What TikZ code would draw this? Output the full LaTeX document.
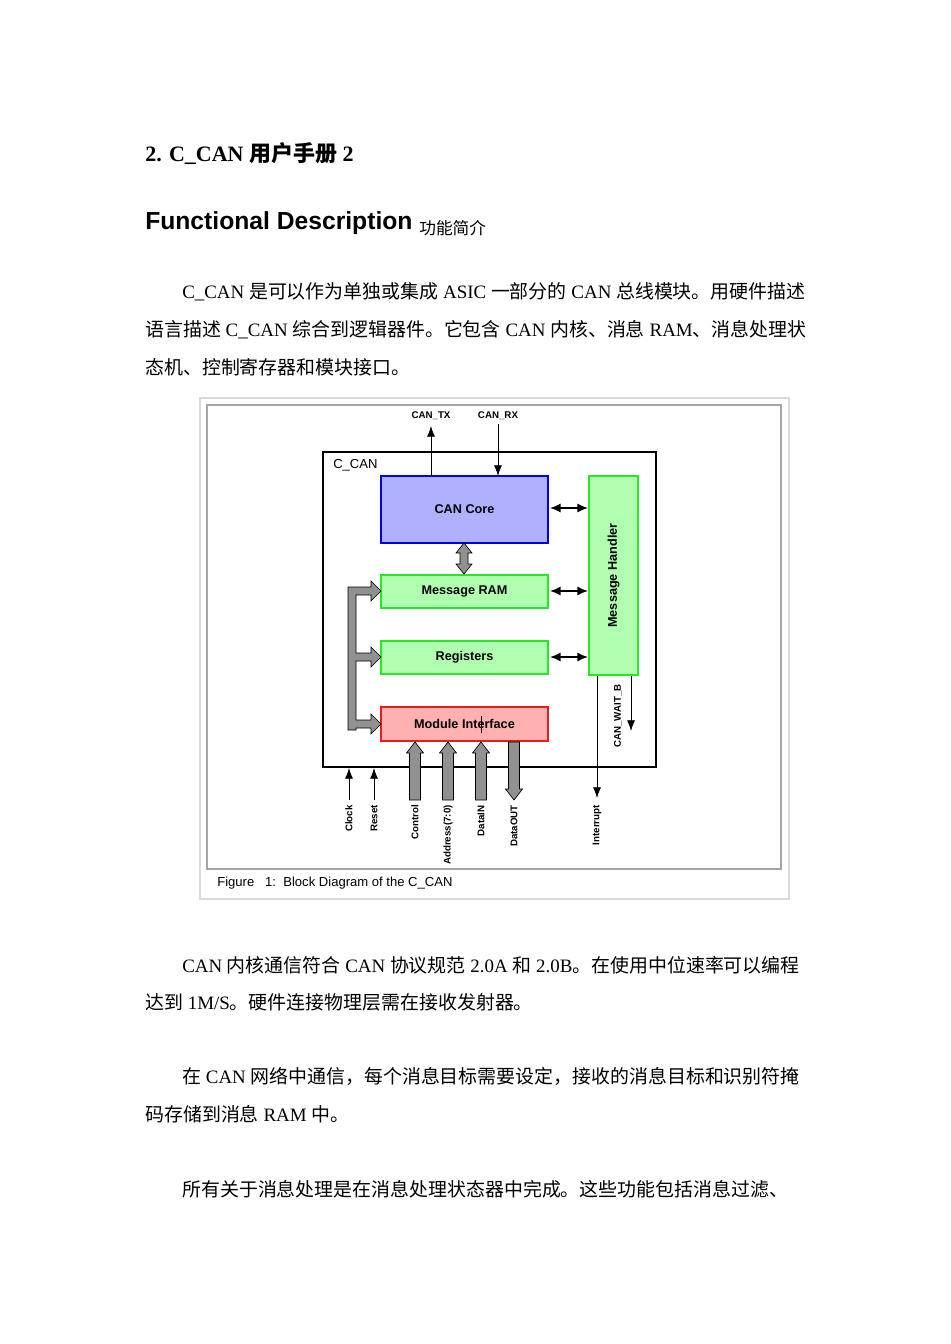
\documentclass[tikz,border=0pt]{standalone}
\usetikzlibrary{arrows.meta}
\usepackage{fontspec}
\setmainfont{Liberation Serif}
\newfontfamily\cjk{Noto Sans CJK SC}
\newfontfamily\sansf{Liberation Sans}
\newcommand\zh[1]{{\cjk #1}}
\begin{document}
\begin{tikzpicture}[x=0.75pt,y=-0.75pt,
  body/.style={anchor=west,inner sep=0,font=\fontsize{14.2}{16}\selectfont},
  lbl/.style={font=\sansf\bfseries\fontsize{7.3}{8}\selectfont,inner sep=0},
  blk/.style={draw,line width=1.5pt,font=\sansf\bfseries\fontsize{9.5}{11}\selectfont,inner sep=0},
  garrow/.style={fill=gray!85!black!75,draw=black,line width=0.5pt},
  sarrow/.style={-{Latex[length=8pt,width=6pt]},line width=0.6pt},
  barrow/.style={{Latex[length=8pt,width=7pt]}-{Latex[length=8pt,width=7pt]},line width=1.4pt}]
\useasboundingbox (0,0) rectangle (950,1344);
\fill[white] (0,0) rectangle (950,1344);
% text
\node[body,font=\bfseries\fontsize{16.5}{18}\selectfont] (h1) at (145,154) {2. C\_CAN \zh{用户手册} 2};
\node[body,font=\sansf\bfseries\fontsize{18.5}{20}\selectfont] (h2) at (145,224) {Functional Description {\cjk\mdseries\fontsize{12.5}{14}\selectfont\raisebox{-4pt}{功能简介}}};
\node[body] (p1) at (182,292) {C\_CAN \zh{是可以作为单独或集成} ASIC \zh{一部分的} CAN \zh{总线模块。用硬件描述}};
\node[body] (p2) at (145,330) {\zh{语言描述} C\_CAN \zh{综合到逻辑器件。它包含} CAN \zh{内核、消息} RAM\zh{、消息处理状}};
\node[body] (p3) at (145,367) {\zh{态机、控制寄存器和模块接口。}};
\node[body] (p4) at (182,965) {CAN \zh{内核通信符合} CAN \zh{协议规范} 2.0A \zh{和} 2.0B\zh{。在使用中位速率可以编程}};
\node[body] (p5) at (145,1002) {\zh{达到} 1M/S\zh{。硬件连接物理层需在接收发射器。}};
\node[body] (p6) at (182,1076) {\zh{在} CAN \zh{网络中通信，每个消息目标需要设定，接收的消息目标和识别符掩}};
\node[body] (p7) at (145,1114) {\zh{码存储到消息} RAM \zh{中。}};
\node[body] (p8) at (182,1189) {\zh{所有关于消息处理是在消息处理状态器中完成。这些功能包括消息过滤、}};
% figure frames
\draw[gray!30,line width=0.8pt] (200,398) rectangle (789,899);
\draw[gray!70,line width=1pt] (207,405) rectangle (781,869);
\node[anchor=west,inner sep=0,font=\sansf\fontsize{9.8}{11}\selectfont] (cap) at (217,883) {Figure\ \ \ 1:\ \ Block Diagram of the C\_CAN};
\draw[line width=1.6pt] (323,452) rectangle (656,767);
\node[anchor=west,inner sep=0,font=\sansf\fontsize{9.8}{11}\selectfont] (cc) at (333,465) {C\_CAN};
% blocks
\node[blk,draw=blue!90!black,fill={rgb,255:red,176;green,176;blue,255},minimum width=125pt,minimum height=50pt] (core) at (464.5,509.5) {CAN Core};
\node[blk,draw={rgb,255:red,40;green,230;blue,40},fill={rgb,255:red,176;green,255;blue,176},minimum width=125pt,minimum height=24.5pt] (ram) at (464.5,591.5) {Message RAM};
\node[blk,draw={rgb,255:red,40;green,230;blue,40},fill={rgb,255:red,176;green,255;blue,176},minimum width=125pt,minimum height=24.5pt] (reg) at (464.5,657.5) {Registers};
\node[blk,draw={rgb,255:red,230;green,30;blue,30},fill={rgb,255:red,255;green,176;blue,176},minimum width=125pt,minimum height=25pt] (mi) at (464.5,724) {Module Interface};
\node[blk,draw={rgb,255:red,40;green,230;blue,40},fill={rgb,255:red,176;green,255;blue,176},minimum width=36.5pt,minimum height=149pt] (mh) at (613.5,575.5) {};
\node[lbl,font=\sansf\bfseries\fontsize{9.5}{11}\selectfont,rotate=90] (mht) at (613.5,575.5) {Message Handler};
% top signals
\coordinate (tx) at (431,426);
\coordinate (rx) at (498,424);
\draw[sarrow] (431,476) -- (tx);
\draw[sarrow] (rx) -- (498,476);
\node[lbl] (txl) at (431,416) {CAN\_TX};
\node[lbl] (rxl) at (498,416) {CAN\_RX};
% black bidirectional
\draw[barrow] (550,508) -- (588,508);
\draw[barrow] (550,591) -- (588,591);
\draw[barrow] (550,657) -- (588,657);
% gray double arrow core-ram
\draw[garrow] (464,543)--(472,553)--(468,553)--(468,564)--(472,564)--(464,574)--(456,564)--(460,564)--(460,553)--(456,553)--cycle;
% bus
\draw[garrow] (348,730)--(348,587)--(371,587)--(371,581)--(381,591)--(371,601)--(371,595)--(356,595)--(356,653)--(371,653)--(371,647)--(381,657)--(371,667)--(371,661)--(356,661)--(356,720)--(371,720)--(371,714)--(381,724)--(371,734)--(371,728)--(356,728)--(356,730)--cycle;
% bottom thin
\coordinate (clk) at (349,800);
\coordinate (rst) at (374,800);
\draw[sarrow] (clk) -- (349,768);
\draw[sarrow] (rst) -- (374,768);
% gray bottom arrows
\foreach \x in {415,448,481}{
  \draw[garrow] (\x-5.5,800)--(\x-5.5,753)--(\x-8.5,753)--(\x,742)--(\x+8.5,753)--(\x+5.5,753)--(\x+5.5,800)--cycle;}
\draw[garrow] (508.5,742)--(508.5,789)--(505.5,789)--(514,800)--(522.5,789)--(519.5,789)--(519.5,742)--cycle;
\draw[line width=0.5pt] (481,716) -- (481,733);
% handler outputs
\coordinate (int) at (597,798);
\coordinate (wait) at (631,731);
\draw[sarrow] (597,676) -- (int);
\draw[sarrow] (631,676) -- (wait);
% rotated labels
\node[lbl,rotate=90,anchor=east] (l1) at (349,805) {Clock};
\node[lbl,rotate=90,anchor=east] (l2) at (374,805) {Reset};
\node[lbl,rotate=90,anchor=east] (l3) at (415,805) {Control};
\node[lbl,rotate=90,anchor=east] (l4) at (448,805) {Address(7:0)};
\node[lbl,rotate=90,anchor=east] (l5) at (481,805) {DataIN};
\node[lbl,rotate=90,anchor=east] (l6) at (514,805) {DataOUT};
\node[lbl,rotate=90,anchor=east] (l7) at (597,805) {Interrupt};
\node[lbl,rotate=90] (l8) at (618,716) {CAN\_WAIT\_B};
\end{tikzpicture}
\end{document}
